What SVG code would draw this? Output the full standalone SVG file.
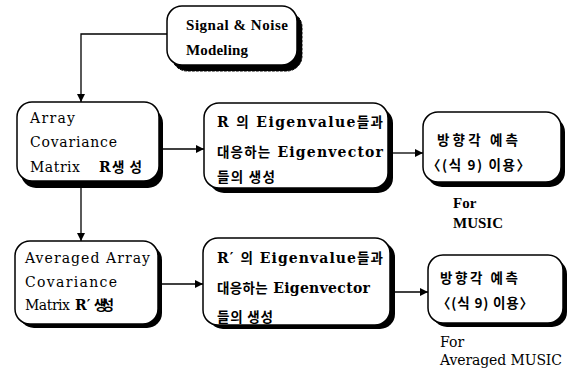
<svg xmlns="http://www.w3.org/2000/svg" width="569" height="369" viewBox="0 0 569 369">
<defs>
<marker id="ah" viewBox="0 0 10 10" refX="10" refY="5" markerWidth="9" markerHeight="8" markerUnits="userSpaceOnUse" orient="auto">
<path d="M0,0 L10,5 L0,10 z" fill="#000"/>
</marker>
<style>
.sh{fill:#000;}
.bx{fill:#fff;stroke:#000;stroke-width:1.5;}
.cn{fill:none;stroke:#000;stroke-width:1.3;marker-end:url(#ah);}
.t{font-family:'DejaVu Serif','Noto Sans CJK KR',serif;font-size:14px;fill:#000;}
.b{font-weight:bold;}
.k{font-family:'Noto Sans CJK KR',sans-serif;font-weight:bold;font-size:13.5px;}
.s{font-family:'Liberation Serif',serif;font-weight:bold;font-size:15px;fill:#000;}
</style>
</defs>
<rect width="569" height="369" fill="#fff"/>
<g id="connectors">
<path class="cn" d="M167,34 H81 V102"/>
<path class="cn" d="M81,188 V241"/>
<path class="cn" d="M163,149 H204"/>
<path class="cn" d="M393,153 H423"/>
<path class="cn" d="M162,284 H203"/>
<path class="cn" d="M395,292 H428"/>
</g>
<g id="signal">
<rect class="sh" x="172" y="12" width="130" height="59" rx="15" stroke="#000" stroke-dasharray="3 1"/>
<rect class="bx" x="167" y="6" width="130" height="59" rx="15"/>
<text class="s" x="186" y="30" textLength="102">Signal &amp; Noise</text>
<text class="s" x="186" y="55" textLength="62">Modeling</text>
</g>
<g id="array">
<rect class="sh" x="21" y="108" width="142" height="80" rx="15"/>
<rect class="bx" x="17" y="102" width="142" height="79" rx="15"/>
<text class="t" x="30" y="123" textLength="45">Array</text>
<text class="t" x="30" y="147" textLength="87">Covariance</text>
<text class="t" x="30" y="172" textLength="50">Matrix</text>
<text class="t b" x="99" y="172">R</text>
<text class="t k" x="112" y="172" font-size="13" textLength="30">생성</text>
</g>
<g id="eigen1">
<rect class="sh" x="209" y="108" width="184" height="85" rx="15"/>
<rect class="bx" x="204" y="103" width="184" height="85" rx="15"/>
<text class="t b" x="217" y="127" textLength="166">R <tspan class="k">의</tspan> Eigenvalue<tspan class="k">들과</tspan></text>
<text class="t b" x="217" y="157" textLength="166"><tspan class="k">대응하는</tspan> Eigenvector</text>
<text class="t b" x="217" y="182" textLength="58"><tspan class="k">들의 생성</tspan></text>
</g>
<g id="doa1">
<rect class="sh" x="427" y="117" width="138" height="70" rx="15"/>
<rect class="bx" x="423" y="112" width="138" height="70" rx="15"/>
<text class="t k" x="437" y="145" font-size="14" textLength="81">방향각 예측</text>
<text class="t k" x="427" y="170" font-size="14" textLength="103">〈(식 9) 이용〉</text>
</g>
<g id="label1">
<text class="s" x="453" y="208" font-size="14">For</text>
<text class="s" x="453" y="228" font-size="14">MUSIC</text>
</g>
<g id="array2">
<rect class="sh" x="19" y="245" width="143" height="83" rx="15"/>
<rect class="bx" x="15" y="241" width="143" height="83" rx="15"/>
<text class="t" x="25" y="263" textLength="125">Averaged Array</text>
<text class="t" x="25" y="287" textLength="92">Covariance</text>
<text class="t" x="25" y="310" font-size="13" textLength="45">Matrix</text>
<text class="t b" x="75" y="310">R′</text>
<text class="t k" x="94" y="310" font-size="12" textLength="20">생성</text>
</g>
<g id="eigen2">
<rect class="sh" x="208" y="242" width="187" height="87" rx="15"/>
<rect class="bx" x="203" y="238" width="187" height="87" rx="15"/>
<text class="t b" x="217" y="263" textLength="166">R′ <tspan class="k">의</tspan> Eigenvalue<tspan class="k">들과</tspan></text>
<text class="t b" x="217" y="293" textLength="153"><tspan class="k">대응하는</tspan> Eigenvector</text>
<text class="t b" x="217" y="322" textLength="56"><tspan class="k">들의 생성</tspan></text>
</g>
<g id="doa2">
<rect class="sh" x="432" y="259" width="135" height="68" rx="15"/>
<rect class="bx" x="428" y="255" width="135" height="68" rx="15"/>
<text class="t k" x="440" y="283" font-size="14" textLength="78">방향각 예측</text>
<text class="t k" x="437" y="308" font-size="14" textLength="96">〈(식 9) 이용〉</text>
</g>
<g id="label2">
<text class="t" x="440" y="347">For</text>
<text class="t" x="440" y="365" textLength="122">Averaged MUSIC</text>
</g>
</svg>
